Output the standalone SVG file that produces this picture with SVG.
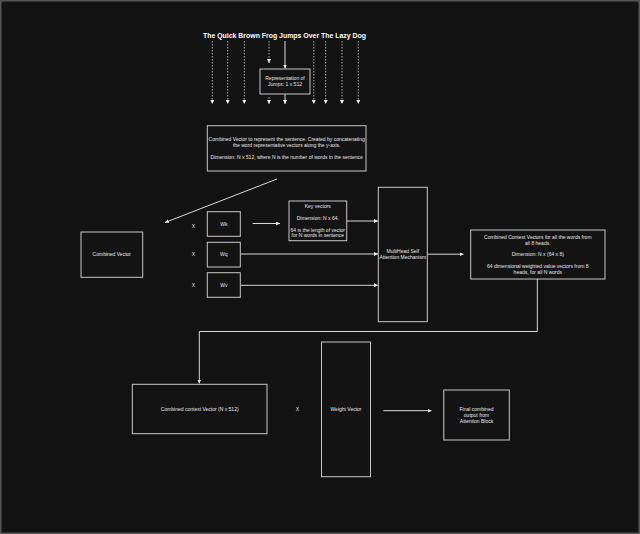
<svg xmlns="http://www.w3.org/2000/svg" width="640" height="534" viewBox="0 0 640 534">
<defs>
<marker id="ah" markerWidth="4" markerHeight="4" refX="4" refY="2" orient="auto" markerUnits="userSpaceOnUse"><path d="M0,0 L4,2 L0,4 z" fill="#eeeeee"/></marker>
<style>
.bx{fill:#131313;stroke:#c8c8c8;stroke-width:1}
.t{font-family:"Liberation Sans",Arial,sans-serif;font-size:5px;fill:#e8e8e8;text-anchor:middle}
.c{stroke:#d8d8d8;stroke-width:1;fill:none}
.d{stroke:#d8d8d8;stroke-width:0.8;fill:none;stroke-dasharray:1.5 1.5}
</style>
</defs>
<rect x="0" y="0" width="640" height="534" fill="#121212"/>
<rect x="0.75" y="0.75" width="638.5" height="532.5" fill="none" stroke="#555" stroke-width="1.5"/>

<g id="title"><text x="284.5" y="38" font-family="Liberation Sans,Arial,sans-serif" font-weight="bold" font-size="8" fill="#ffffff" text-anchor="middle" textLength="163" lengthAdjust="spacingAndGlyphs">The Quick Brown Frog Jumps Over The Lazy Dog</text></g>

<g id="connectors">
<line class="d" x1="212.3" y1="41" x2="212.3" y2="104" marker-end="url(#ah)"/>
<line class="d" x1="227.7" y1="41" x2="227.7" y2="104" marker-end="url(#ah)"/>
<line class="d" x1="244.3" y1="41" x2="244.3" y2="104" marker-end="url(#ah)"/>
<line class="d" x1="269" y1="41" x2="269" y2="63" marker-end="url(#ah)"/>
<line class="d" x1="269" y1="97" x2="269" y2="104" marker-end="url(#ah)"/>
<line class="c" x1="285" y1="41" x2="285" y2="68.5" marker-end="url(#ah)"/>
<line class="c" x1="285" y1="94" x2="285" y2="104" marker-end="url(#ah)"/>
<line class="d" x1="313.8" y1="41" x2="313.8" y2="104" marker-end="url(#ah)"/>
<line class="d" x1="325.7" y1="41" x2="325.7" y2="104" marker-end="url(#ah)"/>
<line class="d" x1="342" y1="41" x2="342" y2="104" marker-end="url(#ah)"/>
<line class="d" x1="358.3" y1="41" x2="358.3" y2="104" marker-end="url(#ah)"/>
<line class="c" x1="277" y1="179" x2="165" y2="222.5" marker-end="url(#ah)"/>
<line class="c" x1="252.7" y1="223.5" x2="280" y2="223.5" marker-end="url(#ah)"/>
<line class="c" x1="346.7" y1="221" x2="378" y2="221" marker-end="url(#ah)"/>
<line class="c" x1="240.3" y1="254" x2="378" y2="254" marker-end="url(#ah)"/>
<line class="c" x1="240.3" y1="285.3" x2="378" y2="285.3" marker-end="url(#ah)"/>
<line class="c" x1="427.3" y1="254.2" x2="463.5" y2="254.2" marker-end="url(#ah)"/>
<polyline class="c" points="537.3,279 537.3,331.5 199.3,331.5 199.3,383.5" marker-end="url(#ah)"/>
<line class="c" x1="383.3" y1="410.7" x2="431.5" y2="410.7" marker-end="url(#ah)"/>
</g>

<g id="rep-jumps"><rect class="bx" x="260" y="69" width="50" height="25"/>
<text class="t" x="285" y="79.5">Representation of</text><text class="t" x="285" y="86">Jumps: 1 x 512</text></g>

<g id="combined-sentence"><rect class="bx" x="207.3" y="125.7" width="158.7" height="45.3"/>
<text class="t" x="286.7" y="141">Combined Vector to represent the sentence. Created by concatenating</text>
<text class="t" x="286.7" y="147">the word representative vectors along the y-axis.</text>
<text class="t" x="286.7" y="159">Dimension: N x 512, where N is the number of words in the sentence</text></g>

<g id="combined-vector"><rect class="bx" x="81" y="232" width="61.7" height="45.3"/>
<text class="t" x="111.8" y="256.2">Combined Vector</text></g>

<g id="x1"><text class="t" x="193.3" y="227.5">X</text></g>
<g id="x2"><text class="t" x="193.3" y="256">X</text></g>
<g id="x3"><text class="t" x="193.3" y="286.5">X</text></g>

<g id="wk"><rect class="bx" x="207.3" y="211.7" width="33" height="24.6"/><text class="t" x="223.8" y="225.5">Wk</text></g>
<g id="wq"><rect class="bx" x="207.3" y="242.3" width="33" height="24.7"/><text class="t" x="223.8" y="256">Wq</text></g>
<g id="wv"><rect class="bx" x="207.3" y="272.7" width="33" height="24.6"/><text class="t" x="223.8" y="286.5">Wv</text></g>

<g id="key-vectors"><rect class="bx" x="289" y="201" width="57.7" height="39.7"/>
<text class="t" x="317.8" y="207.8">Key vectors</text>
<text class="t" x="317.8" y="220">Dimension: N x 64.</text>
<text class="t" x="317.8" y="231.5">64 is the length of vector</text>
<text class="t" x="317.8" y="237">for N words in sentence</text></g>

<g id="mhsa"><rect class="bx" x="378.3" y="187.3" width="49" height="134.4"/>
<text class="t" x="402.8" y="253">MultiHead Self</text>
<text class="t" x="402.8" y="259">Attention Mechanism</text></g>

<g id="context-vectors"><rect class="bx" x="470.7" y="230" width="134.3" height="49"/>
<text class="t" x="537.8" y="238.5">Combined Context Vectors for all the words from</text>
<text class="t" x="537.8" y="244.5">all 8 heads.</text>
<text class="t" x="537.8" y="255.8">Dimension: N x (64 x 8)</text>
<text class="t" x="537.8" y="267.8">64 dimensional weighted value vectors from 8</text>
<text class="t" x="537.8" y="273.8">heads, for all N words</text></g>

<g id="combined-context"><rect class="bx" x="132.3" y="384.3" width="134.7" height="49.4"/>
<text class="t" x="199.7" y="411">Combined context Vector (N x 512)</text></g>

<g id="x4"><text class="t" x="297.3" y="411">X</text></g>

<g id="weight-vector"><rect class="bx" x="321.5" y="342" width="49" height="134.7"/>
<text class="t" x="346" y="411">Weight Vector</text></g>

<g id="final"><rect class="bx" x="443.8" y="390" width="65.5" height="50"/>
<text class="t" x="476.5" y="410.5">Final combined</text>
<text class="t" x="476.5" y="416.5">output from</text>
<text class="t" x="476.5" y="422.5">Attention Block</text></g>
</svg>
